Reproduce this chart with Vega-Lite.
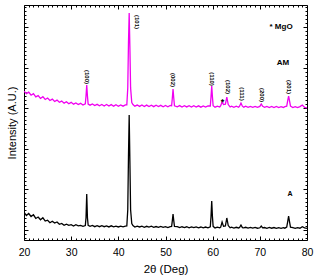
{
  "$schema": "https://vega.github.io/schema/vega-lite/v6.json",
  "width": 283,
  "height": 235,
  "autosize": {"type": "none"},
  "padding": {"left": 24, "top": 5, "right": 9, "bottom": 35},
  "background": "white",
  "config": {
    "view": {"stroke": "black", "strokeWidth": 1},
    "font": "Liberation Sans",
    "axis": {"grid": false, "domain": false, "tickColor": "black", "labelColor": "black", "titleColor": "black", "titleFontWeight": "normal", "labelFont": "Liberation Sans", "titleFont": "Liberation Sans"}
  },
  "datasets": {
    "xrd": [
      {"deg": 20, "v": 439, "s": "A"}, {"deg": 20.5, "v": 355, "s": "A"}, {"deg": 21, "v": 406, "s": "A"}, {"deg": 21.5, "v": 333, "s": "A"}, {"deg": 22, "v": 375, "s": "A"}, {"deg": 22.5, "v": 285, "s": "A"}, {"deg": 23, "v": 321, "s": "A"}, {"deg": 23.5, "v": 253, "s": "A"}, {"deg": 24, "v": 301, "s": "A"}, {"deg": 24.5, "v": 221, "s": "A"}, {"deg": 25, "v": 242, "s": "A"}, {"deg": 25.5, "v": 180, "s": "A"}, {"deg": 26, "v": 217, "s": "A"}, {"deg": 26.5, "v": 170, "s": "A"}, {"deg": 27, "v": 197, "s": "A"}, {"deg": 27.5, "v": 140, "s": "A"}, {"deg": 28, "v": 163, "s": "A"}, {"deg": 28.5, "v": 115, "s": "A"}, {"deg": 29, "v": 145, "s": "A"}, {"deg": 29.5, "v": 116, "s": "A"}, {"deg": 30, "v": 133, "s": "A"}, {"deg": 30.5, "v": 99, "s": "A"}, {"deg": 31, "v": 130, "s": "A"}, {"deg": 31.5, "v": 102, "s": "A"}, {"deg": 32, "v": 113, "s": "A"}, {"deg": 32.5, "v": 90, "s": "A"},
      {"deg": 33.0, "v": 110, "s": "A"}, {"deg": 33.15, "v": 300, "s": "A"}, {"deg": 33.3, "v": 887, "s": "A"}, {"deg": 33.45, "v": 300, "s": "A"}, {"deg": 33.6, "v": 115, "s": "A"},
      {"deg": 34, "v": 89, "s": "A"}, {"deg": 34.5, "v": 113, "s": "A"}, {"deg": 35, "v": 82, "s": "A"}, {"deg": 35.5, "v": 105, "s": "A"}, {"deg": 36, "v": 82, "s": "A"}, {"deg": 36.5, "v": 107, "s": "A"}, {"deg": 37, "v": 82, "s": "A"}, {"deg": 37.5, "v": 103, "s": "A"}, {"deg": 38, "v": 76, "s": "A"}, {"deg": 38.5, "v": 104, "s": "A"}, {"deg": 39, "v": 78, "s": "A"}, {"deg": 39.5, "v": 96, "s": "A"}, {"deg": 40, "v": 75, "s": "A"}, {"deg": 40.5, "v": 97, "s": "A"}, {"deg": 41, "v": 78, "s": "A"}, {"deg": 41.5, "v": 98, "s": "A"},
      {"deg": 41.8, "v": 100, "s": "A"}, {"deg": 42.0, "v": 500, "s": "A"}, {"deg": 42.15, "v": 1800, "s": "A"}, {"deg": 42.3, "v": 2832, "s": "A"}, {"deg": 42.45, "v": 1700, "s": "A"}, {"deg": 42.6, "v": 500, "s": "A"}, {"deg": 42.85, "v": 160, "s": "A"}, {"deg": 43.1, "v": 110, "s": "A"},
      {"deg": 43.5, "v": 74, "s": "A"}, {"deg": 44, "v": 96, "s": "A"}, {"deg": 44.5, "v": 75, "s": "A"}, {"deg": 45, "v": 94, "s": "A"}, {"deg": 45.5, "v": 68, "s": "A"}, {"deg": 46, "v": 91, "s": "A"}, {"deg": 46.5, "v": 70, "s": "A"}, {"deg": 47, "v": 93, "s": "A"}, {"deg": 47.5, "v": 67, "s": "A"}, {"deg": 48, "v": 86, "s": "A"}, {"deg": 48.5, "v": 65, "s": "A"}, {"deg": 49, "v": 90, "s": "A"}, {"deg": 49.5, "v": 65, "s": "A"}, {"deg": 50, "v": 84, "s": "A"}, {"deg": 50.5, "v": 61, "s": "A"}, {"deg": 51, "v": 85, "s": "A"},
      {"deg": 51.3, "v": 90, "s": "A"}, {"deg": 51.45, "v": 230, "s": "A"}, {"deg": 51.6, "v": 394, "s": "A"}, {"deg": 51.75, "v": 230, "s": "A"}, {"deg": 51.9, "v": 90, "s": "A"},
      {"deg": 52.5, "v": 81, "s": "A"}, {"deg": 53, "v": 58, "s": "A"}, {"deg": 53.5, "v": 80, "s": "A"}, {"deg": 54, "v": 61, "s": "A"}, {"deg": 54.5, "v": 80, "s": "A"}, {"deg": 55, "v": 56, "s": "A"}, {"deg": 55.5, "v": 77, "s": "A"}, {"deg": 56, "v": 58, "s": "A"}, {"deg": 56.5, "v": 78, "s": "A"}, {"deg": 57, "v": 55, "s": "A"}, {"deg": 57.5, "v": 74, "s": "A"}, {"deg": 58, "v": 52, "s": "A"}, {"deg": 58.5, "v": 73, "s": "A"}, {"deg": 59, "v": 55, "s": "A"},
      {"deg": 59.5, "v": 80, "s": "A"}, {"deg": 59.65, "v": 330, "s": "A"}, {"deg": 59.8, "v": 714, "s": "A"}, {"deg": 59.95, "v": 330, "s": "A"}, {"deg": 60.1, "v": 90, "s": "A"},
      {"deg": 60.5, "v": 52, "s": "A"}, {"deg": 61, "v": 71, "s": "A"}, {"deg": 61.5, "v": 53, "s": "A"}, {"deg": 61.7, "v": 70, "s": "A"}, {"deg": 62.0, "v": 197, "s": "A"}, {"deg": 62.3, "v": 90, "s": "A"}, {"deg": 62.7, "v": 100, "s": "A"}, {"deg": 63.0, "v": 296, "s": "A"}, {"deg": 63.3, "v": 110, "s": "A"},
      {"deg": 63.7, "v": 55, "s": "A"}, {"deg": 64, "v": 70, "s": "A"}, {"deg": 64.5, "v": 49, "s": "A"}, {"deg": 65, "v": 67, "s": "A"}, {"deg": 65.5, "v": 50, "s": "A"}, {"deg": 65.7, "v": 60, "s": "A"}, {"deg": 66.0, "v": 123, "s": "A"}, {"deg": 66.3, "v": 60, "s": "A"}, {"deg": 66.6, "v": 52, "s": "A"}, {"deg": 67, "v": 67, "s": "A"}, {"deg": 67.5, "v": 46, "s": "A"}, {"deg": 68, "v": 66, "s": "A"}, {"deg": 68.5, "v": 47, "s": "A"}, {"deg": 69, "v": 65, "s": "A"}, {"deg": 69.5, "v": 44, "s": "A"},
      {"deg": 70.0, "v": 55, "s": "A"}, {"deg": 70.3, "v": 99, "s": "A"}, {"deg": 70.6, "v": 55, "s": "A"},
      {"deg": 71, "v": 61, "s": "A"}, {"deg": 71.5, "v": 43, "s": "A"}, {"deg": 72, "v": 62, "s": "A"}, {"deg": 72.5, "v": 44, "s": "A"}, {"deg": 73, "v": 61, "s": "A"}, {"deg": 73.5, "v": 41, "s": "A"}, {"deg": 74, "v": 60, "s": "A"}, {"deg": 74.5, "v": 42, "s": "A"}, {"deg": 75, "v": 60, "s": "A"}, {"deg": 75.3, "v": 45, "s": "A"},
      {"deg": 75.7, "v": 70, "s": "A"}, {"deg": 75.9, "v": 200, "s": "A"}, {"deg": 76.1, "v": 345, "s": "A"}, {"deg": 76.3, "v": 200, "s": "A"}, {"deg": 76.5, "v": 70, "s": "A"},
      {"deg": 77, "v": 57, "s": "A"}, {"deg": 77.5, "v": 39, "s": "A"}, {"deg": 78, "v": 59, "s": "A"}, {"deg": 78.5, "v": 44, "s": "A"}, {"deg": 79, "v": 80, "s": "A"}, {"deg": 79.5, "v": 54, "s": "A"}, {"deg": 80, "v": 41, "s": "A"},

      {"deg": 20, "v": 3420, "s": "AM"}, {"deg": 20.5, "v": 3360, "s": "AM"}, {"deg": 21, "v": 3395, "s": "AM"}, {"deg": 21.5, "v": 3320, "s": "AM"}, {"deg": 22, "v": 3360, "s": "AM"}, {"deg": 22.5, "v": 3280, "s": "AM"}, {"deg": 23, "v": 3310, "s": "AM"}, {"deg": 23.5, "v": 3240, "s": "AM"}, {"deg": 24, "v": 3285, "s": "AM"}, {"deg": 24.5, "v": 3215, "s": "AM"}, {"deg": 25, "v": 3250, "s": "AM"}, {"deg": 25.5, "v": 3190, "s": "AM"}, {"deg": 26, "v": 3225, "s": "AM"}, {"deg": 26.5, "v": 3165, "s": "AM"}, {"deg": 27, "v": 3200, "s": "AM"}, {"deg": 27.5, "v": 3145, "s": "AM"}, {"deg": 28, "v": 3175, "s": "AM"}, {"deg": 28.5, "v": 3125, "s": "AM"}, {"deg": 29, "v": 3160, "s": "AM"}, {"deg": 29.5, "v": 3110, "s": "AM"}, {"deg": 30, "v": 3145, "s": "AM"}, {"deg": 30.5, "v": 3100, "s": "AM"}, {"deg": 31, "v": 3130, "s": "AM"}, {"deg": 31.5, "v": 3090, "s": "AM"}, {"deg": 32, "v": 3120, "s": "AM"}, {"deg": 32.5, "v": 3080, "s": "AM"},
      {"deg": 33.0, "v": 3110, "s": "AM"}, {"deg": 33.15, "v": 3300, "s": "AM"}, {"deg": 33.3, "v": 3571, "s": "AM"}, {"deg": 33.45, "v": 3300, "s": "AM"}, {"deg": 33.6, "v": 3100, "s": "AM"},
      {"deg": 34, "v": 3075, "s": "AM"}, {"deg": 34.5, "v": 3105, "s": "AM"}, {"deg": 35, "v": 3065, "s": "AM"}, {"deg": 35.5, "v": 3095, "s": "AM"}, {"deg": 36, "v": 3060, "s": "AM"}, {"deg": 36.5, "v": 3092, "s": "AM"}, {"deg": 37, "v": 3055, "s": "AM"}, {"deg": 37.5, "v": 3090, "s": "AM"}, {"deg": 38, "v": 3052, "s": "AM"}, {"deg": 38.5, "v": 3088, "s": "AM"}, {"deg": 39, "v": 3050, "s": "AM"}, {"deg": 39.5, "v": 3085, "s": "AM"}, {"deg": 40, "v": 3048, "s": "AM"}, {"deg": 40.5, "v": 3082, "s": "AM"}, {"deg": 41, "v": 3050, "s": "AM"}, {"deg": 41.5, "v": 3080, "s": "AM"},
      {"deg": 41.8, "v": 3080, "s": "AM"}, {"deg": 42.0, "v": 3500, "s": "AM"}, {"deg": 42.15, "v": 4600, "s": "AM"}, {"deg": 42.3, "v": 5345, "s": "AM"}, {"deg": 42.45, "v": 4500, "s": "AM"}, {"deg": 42.6, "v": 3500, "s": "AM"}, {"deg": 42.85, "v": 3140, "s": "AM"}, {"deg": 43.1, "v": 3090, "s": "AM"},
      {"deg": 43.5, "v": 3050, "s": "AM"}, {"deg": 44, "v": 3078, "s": "AM"}, {"deg": 44.5, "v": 3045, "s": "AM"}, {"deg": 45, "v": 3080, "s": "AM"}, {"deg": 45.5, "v": 3042, "s": "AM"}, {"deg": 46, "v": 3076, "s": "AM"}, {"deg": 46.5, "v": 3040, "s": "AM"}, {"deg": 47, "v": 3075, "s": "AM"}, {"deg": 47.5, "v": 3038, "s": "AM"}, {"deg": 48, "v": 3072, "s": "AM"}, {"deg": 48.5, "v": 3040, "s": "AM"}, {"deg": 49, "v": 3070, "s": "AM"}, {"deg": 49.5, "v": 3036, "s": "AM"}, {"deg": 50, "v": 3068, "s": "AM"}, {"deg": 50.5, "v": 3035, "s": "AM"}, {"deg": 51, "v": 3066, "s": "AM"},
      {"deg": 51.3, "v": 3060, "s": "AM"}, {"deg": 51.45, "v": 3250, "s": "AM"}, {"deg": 51.6, "v": 3473, "s": "AM"}, {"deg": 51.75, "v": 3250, "s": "AM"}, {"deg": 51.9, "v": 3060, "s": "AM"},
      {"deg": 52.5, "v": 3034, "s": "AM"}, {"deg": 53, "v": 3064, "s": "AM"}, {"deg": 53.5, "v": 3030, "s": "AM"}, {"deg": 54, "v": 3062, "s": "AM"}, {"deg": 54.5, "v": 3032, "s": "AM"}, {"deg": 55, "v": 3060, "s": "AM"}, {"deg": 55.5, "v": 3028, "s": "AM"}, {"deg": 56, "v": 3060, "s": "AM"}, {"deg": 56.5, "v": 3030, "s": "AM"}, {"deg": 57, "v": 3058, "s": "AM"}, {"deg": 57.5, "v": 3026, "s": "AM"}, {"deg": 58, "v": 3056, "s": "AM"}, {"deg": 58.5, "v": 3028, "s": "AM"}, {"deg": 59, "v": 3055, "s": "AM"},
      {"deg": 59.5, "v": 3055, "s": "AM"}, {"deg": 59.65, "v": 3280, "s": "AM"}, {"deg": 59.8, "v": 3547, "s": "AM"}, {"deg": 59.95, "v": 3280, "s": "AM"}, {"deg": 60.1, "v": 3060, "s": "AM"},
      {"deg": 60.5, "v": 3025, "s": "AM"}, {"deg": 61, "v": 3052, "s": "AM"}, {"deg": 61.5, "v": 3030, "s": "AM"}, {"deg": 61.7, "v": 3060, "s": "AM"}, {"deg": 62.0, "v": 3153, "s": "AM"}, {"deg": 62.3, "v": 3090, "s": "AM"}, {"deg": 62.7, "v": 3100, "s": "AM"}, {"deg": 63.0, "v": 3276, "s": "AM"}, {"deg": 63.3, "v": 3090, "s": "AM"},
      {"deg": 63.7, "v": 3030, "s": "AM"}, {"deg": 64, "v": 3050, "s": "AM"}, {"deg": 64.5, "v": 3022, "s": "AM"}, {"deg": 65, "v": 3050, "s": "AM"}, {"deg": 65.5, "v": 3024, "s": "AM"}, {"deg": 65.7, "v": 3050, "s": "AM"}, {"deg": 66.0, "v": 3128, "s": "AM"}, {"deg": 66.3, "v": 3050, "s": "AM"}, {"deg": 66.6, "v": 3025, "s": "AM"}, {"deg": 67, "v": 3048, "s": "AM"}, {"deg": 67.5, "v": 3020, "s": "AM"}, {"deg": 68, "v": 3046, "s": "AM"}, {"deg": 68.5, "v": 3022, "s": "AM"}, {"deg": 69, "v": 3046, "s": "AM"}, {"deg": 69.5, "v": 3020, "s": "AM"},
      {"deg": 70.0, "v": 3045, "s": "AM"}, {"deg": 70.3, "v": 3103, "s": "AM"}, {"deg": 70.6, "v": 3045, "s": "AM"},
      {"deg": 71, "v": 3020, "s": "AM"}, {"deg": 71.5, "v": 3044, "s": "AM"}, {"deg": 72, "v": 3018, "s": "AM"}, {"deg": 72.5, "v": 3042, "s": "AM"}, {"deg": 73, "v": 3018, "s": "AM"}, {"deg": 73.5, "v": 3042, "s": "AM"}, {"deg": 74, "v": 3016, "s": "AM"}, {"deg": 74.5, "v": 3040, "s": "AM"}, {"deg": 75, "v": 3018, "s": "AM"}, {"deg": 75.3, "v": 3040, "s": "AM"},
      {"deg": 75.7, "v": 3050, "s": "AM"}, {"deg": 75.9, "v": 3180, "s": "AM"}, {"deg": 76.1, "v": 3300, "s": "AM"}, {"deg": 76.3, "v": 3180, "s": "AM"}, {"deg": 76.5, "v": 3050, "s": "AM"},
      {"deg": 77, "v": 3016, "s": "AM"}, {"deg": 77.5, "v": 3040, "s": "AM"}, {"deg": 78, "v": 3014, "s": "AM"}, {"deg": 78.5, "v": 3040, "s": "AM"}, {"deg": 79, "v": 3079, "s": "AM"}, {"deg": 79.5, "v": 3020, "s": "AM"}, {"deg": 80, "v": 3010, "s": "AM"}
    ],
    "hkl": [
      {"deg": 33.4, "v": 3768, "t": "(100)"},
      {"deg": 43.9, "v": 5123, "t": "(101)"},
      {"deg": 51.65, "v": 3695, "t": "(002)"},
      {"deg": 59.8, "v": 3719, "t": "(110)"},
      {"deg": 63.2, "v": 3522, "t": "(102)"},
      {"deg": 66.2, "v": 3350, "t": "(111)"},
      {"deg": 70.4, "v": 3325, "t": "(200)"},
      {"deg": 76.1, "v": 3522, "t": "(201)"}
    ],
    "notes": [
      {"deg": 62.1, "v": 3150, "t": "*", "size": 9},
      {"deg": 74.5, "v": 5000, "t": "* MgO", "size": 8},
      {"deg": 74.9, "v": 4113, "t": "AM", "size": 8},
      {"deg": 76.4, "v": 887, "t": "A", "size": 7}
    ]
  },
  "layer": [
    {
      "data": {"name": "xrd"},
      "mark": {"type": "line", "strokeWidth": 1.3, "clip": true},
      "encoding": {
        "x": {
          "field": "deg", "type": "quantitative",
          "scale": {"domain": [20, 80], "nice": false, "zero": false},
          "axis": {
            "orient": "bottom",
            "title": "2θ (Deg)",
            "titleFontSize": 11.5,
            "titlePadding": 4,
            "labelFontSize": 10.5,
            "labelPadding": 11,
            "values": [20,21,22,23,24,25,26,27,28,29,30,31,32,33,34,35,36,37,38,39,40,41,42,43,44,45,46,47,48,49,50,51,52,53,54,55,56,57,58,59,60,61,62,63,64,65,66,67,68,69,70,71,72,73,74,75,76,77,78,79,80],
            "labelExpr": "datum.value % 10 === 0 ? datum.label : ''",
            "labelFlush": false,
            "labelOverlap": false,
            "tickSize": {"condition": {"test": "datum.value % 10 === 0", "value": -4}, "value": -2}
          }
        },
        "y": {
          "field": "v", "type": "quantitative",
          "scale": {"domain": [-246, 5542], "nice": false, "zero": false},
          "axis": {
            "orient": "left",
            "title": "Intensity (A.U.)",
            "titleFontSize": 11,
            "titlePadding": 6,
            "labels": false,
            "values": [-200,-100,0,100,200,300,400,500,600,700,800,900,1000,1100,1200,1300,1400,1500,1600,1700,1800,1900,2000,2100,2200,2300,2400,2500,2600,2700,2800,2900,3000,3100,3200,3300,3400,3500,3600,3700,3800,3900,4000,4100,4200,4300,4400,4500,4600,4700,4800,4900,5000,5100,5200,5300,5400,5500],
            "tickSize": {"condition": {"test": "datum.value % 1000 === 0", "value": -4}, "value": -2}
          }
        },
        "color": {
          "field": "s", "type": "nominal",
          "scale": {"domain": ["A", "AM"], "range": ["#000000", "#f000f0"]},
          "legend": null
        },
        "detail": {"field": "s"}
      }
    },
    {
      "data": {"name": "hkl"},
      "mark": {"type": "text", "angle": 90, "fontSize": 6, "fontWeight": "bold", "align": "center", "baseline": "middle", "color": "black", "font": "Liberation Sans"},
      "encoding": {
        "x": {
          "field": "deg", "type": "quantitative",
          "axis": {
            "orient": "top", "title": null, "labels": false,
            "values": [20,21,22,23,24,25,26,27,28,29,30,31,32,33,34,35,36,37,38,39,40,41,42,43,44,45,46,47,48,49,50,51,52,53,54,55,56,57,58,59,60,61,62,63,64,65,66,67,68,69,70,71,72,73,74,75,76,77,78,79,80],
            "tickSize": {"condition": {"test": "datum.value % 10 === 0", "value": -4}, "value": -2}
          }
        },
        "y": {
          "field": "v", "type": "quantitative",
          "axis": {
            "orient": "right", "title": null, "labels": false,
            "values": [-200,-100,0,100,200,300,400,500,600,700,800,900,1000,1100,1200,1300,1400,1500,1600,1700,1800,1900,2000,2100,2200,2300,2400,2500,2600,2700,2800,2900,3000,3100,3200,3300,3400,3500,3600,3700,3800,3900,4000,4100,4200,4300,4400,4500,4600,4700,4800,4900,5000,5100,5200,5300,5400,5500],
            "tickSize": {"condition": {"test": "datum.value % 1000 === 0", "value": -4}, "value": -2}
          }
        },
        "text": {"field": "t"}
      }
    },
    {
      "data": {"name": "notes"},
      "mark": {"type": "text", "fontWeight": "bold", "align": "center", "baseline": "middle", "color": "black", "font": "Liberation Sans"},
      "encoding": {
        "x": {"field": "deg", "type": "quantitative", "axis": null},
        "y": {"field": "v", "type": "quantitative", "axis": null},
        "text": {"field": "t"},
        "size": {"field": "size", "type": "quantitative", "scale": null}
      }
    }
  ],
  "resolve": {"axis": {"x": "independent", "y": "independent"}}
}
